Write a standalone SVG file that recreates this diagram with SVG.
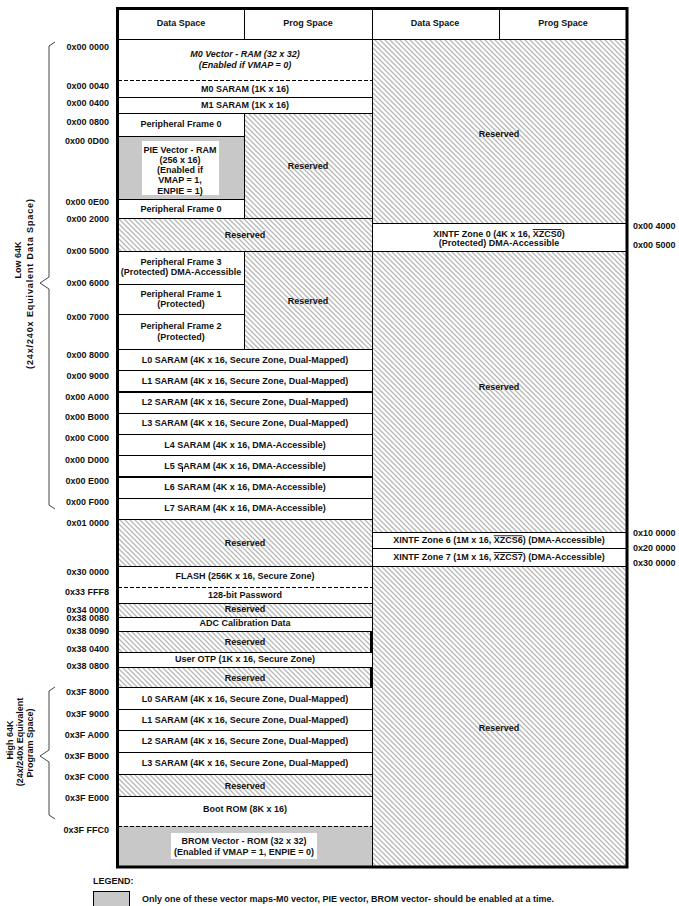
<svg xmlns="http://www.w3.org/2000/svg" width="679" height="906" viewBox="0 0 679 906">
<style>
text{font-family:"Liberation Sans",Arial,sans-serif;font-size:9px;font-weight:bold;fill:#111;}
.c{text-anchor:middle;}
.a{text-anchor:end;}
.i{font-style:italic;}
.w{fill:#fff;}
.h{fill:url(#hatch);}
.g{fill:#c8c8c8;}
.ln{stroke:#000;stroke-width:1;fill:none;}
.thk{stroke:#000;stroke-width:2;fill:none;}
.ds{stroke:#000;stroke-width:1;stroke-dasharray:4,2;fill:none;}
.br{stroke:#444;stroke-width:1;fill:none;}
.ov{text-decoration:overline;}
</style>
<defs>
<pattern id="hatch" patternUnits="userSpaceOnUse" width="5" height="5">
<rect width="5" height="5" fill="#fff"/>
<path d="M0,0 L5,5 M-1,4 L1,6 M4,-1 L6,1" stroke="#b8b8b8" stroke-width="1.3"/>
</pattern>
</defs>
<rect width="679" height="906" fill="#fff"/>

<g id="header">
<rect x="118" y="8" width="510" height="31" class="w"/>
<text x="181" y="26" class="c">Data Space</text>
<text x="308" y="26" class="c">Prog Space</text>
<text x="435" y="26" class="c">Data Space</text>
<text x="563" y="26" class="c">Prog Space</text>
</g>

<g id="m0vector">
<rect x="118" y="39" width="254" height="41" class="w"/>
<text x="245" y="57" class="c i">M0 Vector - RAM (32 x 32)</text>
<text x="245" y="68" class="c i">(Enabled if VMAP = 0)</text>
</g>
<g id="m0saram"><rect x="118" y="80" width="254" height="17" class="w"/><text x="245" y="91.5" class="c">M0 SARAM (1K x 16)</text></g>
<g id="m1saram"><rect x="118" y="97" width="254" height="16" class="w"/><text x="245" y="108" class="c">M1 SARAM (1K x 16)</text></g>
<g id="pf0a"><rect x="118" y="113" width="126" height="23" class="w"/><text x="181" y="127" class="c">Peripheral Frame 0</text></g>
<g id="pievector">
<rect x="118" y="136" width="126" height="63" class="g"/>
<rect x="142" y="141" width="77" height="54" class="w"/>
<text x="180" y="152.7" class="c">PIE Vector - RAM</text>
<text x="180" y="163" class="c">(256 x 16)</text>
<text x="180" y="173" class="c">(Enabled if</text>
<text x="180" y="183" class="c">VMAP = 1,</text>
<text x="180" y="193.5" class="c">ENPIE = 1)</text>
</g>
<g id="pf0b"><rect x="118" y="199" width="126" height="19" class="w"/><text x="181" y="212" class="c">Peripheral Frame 0</text></g>
<g id="resProg1"><rect x="244" y="113" width="128" height="105" class="h"/><text x="308" y="168.7" class="c">Reserved</text></g>
<g id="res1"><rect x="118" y="218" width="254" height="33" class="h"/><text x="245" y="237.7" class="c">Reserved</text></g>
<g id="pf3"><rect x="118" y="251" width="126" height="33" class="w"/><text x="181" y="265" class="c">Peripheral Frame 3</text><text x="181" y="275.3" class="c">(Protected) DMA-Accessible</text></g>
<g id="pf1"><rect x="118" y="284" width="126" height="30" class="w"/><text x="181" y="296.7" class="c">Peripheral Frame 1</text><text x="181" y="306.7" class="c">(Protected)</text></g>
<g id="pf2"><rect x="118" y="314" width="126" height="35" class="w"/><text x="181" y="329" class="c">Peripheral Frame 2</text><text x="181" y="339.7" class="c">(Protected)</text></g>
<g id="resProg2"><rect x="244" y="251" width="128" height="98" class="h"/><text x="308" y="303.7" class="c">Reserved</text></g>
<g id="l0low"><rect x="118" y="349" width="254" height="21" class="w"/><text x="245" y="363" class="c">L0 SARAM (4K x 16, Secure Zone, Dual-Mapped)</text></g>
<g id="l1low"><rect x="118" y="370" width="254" height="22" class="w"/><text x="245" y="384" class="c">L1 SARAM (4K x 16, Secure Zone, Dual-Mapped)</text></g>
<g id="l2low"><rect x="118" y="392" width="254" height="21" class="w"/><text x="245" y="405" class="c">L2 SARAM (4K x 16, Secure Zone, Dual-Mapped)</text></g>
<g id="l3low"><rect x="118" y="413" width="254" height="21" class="w"/><text x="245" y="426.3" class="c">L3 SARAM (4K x 16, Secure Zone, Dual-Mapped)</text></g>
<g id="l4"><rect x="118" y="434" width="254" height="21" class="w"/><text x="245" y="447.7" class="c">L4 SARAM (4K x 16, DMA-Accessible)</text></g>
<g id="l5"><rect x="118" y="455" width="254" height="22" class="w"/><text x="245" y="468.7" class="c">L5 SARAM (4K x 16, DMA-Accessible)</text><line x1="182.5" y1="467" x2="182.5" y2="472" class="ln"/></g>
<g id="l6"><rect x="118" y="477" width="254" height="21" class="w"/><text x="245" y="490" class="c">L6 SARAM (4K x 16, DMA-Accessible)</text></g>
<g id="l7"><rect x="118" y="498" width="254" height="21" class="w"/><text x="245" y="511" class="c">L7 SARAM (4K x 16, DMA-Accessible)</text></g>
<g id="res2"><rect x="118" y="519" width="254" height="47" class="h"/><text x="245" y="545.7" class="c">Reserved</text></g>
<g id="flash"><rect x="118" y="566" width="254" height="21" class="w"/><text x="245" y="578.7" class="c">FLASH (256K x 16, Secure Zone)</text></g>
<g id="password"><rect x="118" y="587" width="254" height="16" class="w"/><text x="245" y="598.3" class="c">128-bit Password</text></g>
<g id="res3"><rect x="118" y="603" width="254" height="14" class="h"/><text x="245" y="612.3" class="c">Reserved</text></g>
<g id="adc"><rect x="118" y="617" width="254" height="14" class="w"/><text x="245" y="626.3" class="c">ADC Calibration Data</text></g>
<g id="res4"><rect x="118" y="631" width="254" height="21" class="h"/><text x="245" y="644.7" class="c">Reserved</text></g>
<g id="otp"><rect x="118" y="652" width="254" height="15" class="w"/><text x="245" y="662.3" class="c">User OTP (1K x 16, Secure Zone)</text></g>
<g id="res5"><rect x="118" y="667" width="254" height="20" class="h"/><text x="245" y="681" class="c">Reserved</text></g>
<g id="l0high"><rect x="118" y="687" width="254" height="22" class="w"/><text x="245" y="701.7" class="c">L0 SARAM (4K x 16, Secure Zone, Dual-Mapped)</text></g>
<g id="l1high"><rect x="118" y="709" width="254" height="21" class="w"/><text x="245" y="723" class="c">L1 SARAM (4K x 16, Secure Zone, Dual-Mapped)</text></g>
<g id="l2high"><rect x="118" y="730" width="254" height="22" class="w"/><text x="245" y="744" class="c">L2 SARAM (4K x 16, Secure Zone, Dual-Mapped)</text></g>
<g id="l3high"><rect x="118" y="752" width="254" height="22" class="w"/><text x="245" y="765.7" class="c">L3 SARAM (4K x 16, Secure Zone, Dual-Mapped)</text></g>
<g id="res6"><rect x="118" y="774" width="254" height="22" class="h"/><text x="245" y="789" class="c">Reserved</text></g>
<g id="bootrom"><rect x="118" y="796" width="254" height="30" class="w"/><text x="245" y="812" class="c">Boot ROM (8K x 16)</text></g>
<g id="bromvector">
<rect x="118" y="826" width="254" height="41" class="g"/>
<rect x="171" y="833" width="146" height="26" class="w"/>
<text x="244" y="844" class="c">BROM Vector - ROM (32 x 32)</text>
<text x="244" y="854.5" class="c">(Enabled if VMAP = 1, ENPIE = 0)</text>
</g>

<g id="rres1"><rect x="372" y="39" width="256" height="184" class="h"/><text x="499" y="137" class="c">Reserved</text></g>
<g id="xintf0"><rect x="372" y="223" width="256" height="28" class="w"/>
<text x="499" y="237" class="c">XINTF Zone 0 (4K x 16, <tspan class="ov">XZCS0</tspan>)</text>
<text x="499" y="246" class="c">(Protected) DMA-Accessible</text></g>
<g id="rres2"><rect x="372" y="251" width="256" height="281" class="h"/><text x="499" y="390" class="c">Reserved</text></g>
<g id="xintf6"><rect x="372" y="532" width="256" height="16" class="w"/><text x="499" y="543.3" class="c">XINTF Zone 6 (1M x 16, <tspan class="ov">XZCS6</tspan>) (DMA-Accessible)</text></g>
<g id="xintf7"><rect x="372" y="548" width="256" height="18" class="w"/><text x="499" y="560" class="c">XINTF Zone 7 (1M x 16, <tspan class="ov">XZCS7</tspan>) (DMA-Accessible)</text></g>
<g id="rres3"><rect x="372" y="566" width="256" height="301" class="h"/><text x="499" y="731" class="c">Reserved</text></g>

<g id="connectors">
<path class="ln" d="M118,39.5H628 M118,97.5H372 M118,113.5H372 M118,136.5H244 M118,199.5H244 M118,218.5H372 M372,223.5H628 M118,251.5H628 M118,284.5H244 M118,314.5H244 M118,349.5H372 M118,370.5H372 M118,413.5H372 M118,434.5H372 M118,455.5H372 M118,498.5H372 M118,519.5H372 M118,566.5H628 M372,532.5H628 M372,548.5H628 M118,603.5H372 M118,617.5H372 M118,631.5H372 M118,652.5H372 M118,667.5H372 M118,687.5H372 M118,709.5H372 M118,730.5H372 M118,752.5H372 M118,774.5H372 M118,796.5H372"/>
<path class="thk" d="M118,392H372 M118,477H372 M371,631V652 M371,667V687"/>
<path class="ds" d="M118,80.5H372 M118,587.5H372 M118,826.5H372"/>
<path class="ln" d="M244.5,8V39 M499.5,8V39 M244.5,113V218 M244.5,251V349 M372.5,8V867"/>
<rect x="117.5" y="8.5" width="509.5" height="858.5" fill="none" stroke="#000" stroke-width="3"/>
</g>

<g id="addresses">
<text x="109" y="50" class="a">0x00 0000</text>
<text x="109" y="89.3" class="a">0x00 0040</text>
<text x="109" y="106" class="a">0x00 0400</text>
<text x="109" y="125.3" class="a">0x00 0800</text>
<text x="109" y="144" class="a">0x00 0D00</text>
<text x="109" y="205.3" class="a">0x00 0E00</text>
<text x="109" y="222.3" class="a">0x00 2000</text>
<text x="109" y="254" class="a">0x00 5000</text>
<text x="109" y="286.3" class="a">0x00 6000</text>
<text x="109" y="320" class="a">0x00 7000</text>
<text x="109" y="358" class="a">0x00 8000</text>
<text x="109" y="379.3" class="a">0x00 9000</text>
<text x="109" y="400" class="a">0x00 A000</text>
<text x="109" y="420" class="a">0x00 B000</text>
<text x="109" y="441.3" class="a">0x00 C000</text>
<text x="109" y="463.3" class="a">0x00 D000</text>
<text x="109" y="484" class="a">0x00 E000</text>
<text x="109" y="505.3" class="a">0x00 F000</text>
<text x="109" y="526" class="a">0x01 0000</text>
<text x="109" y="575.3" class="a">0x30  0000</text>
<text x="109" y="595" class="a">0x33  FFF8</text>
<text x="109" y="612.6" class="a">0x34  0000</text>
<text x="109" y="621" class="a">0x38  0080</text>
<text x="109" y="634.3" class="a">0x38  0090</text>
<text x="109" y="652.3" class="a">0x38  0400</text>
<text x="109" y="669.3" class="a">0x38  0800</text>
<text x="109" y="695.3" class="a">0x3F  8000</text>
<text x="109" y="717.3" class="a">0x3F  9000</text>
<text x="109" y="738.3" class="a">0x3F  A000</text>
<text x="109" y="759.3" class="a">0x3F  B000</text>
<text x="109" y="780" class="a">0x3F  C000</text>
<text x="109" y="801.3" class="a">0x3F  E000</text>
<text x="109" y="833.3" class="a">0x3F  FFC0</text>
<text x="633" y="229.3">0x00 4000</text>
<text x="633" y="248.3">0x00 5000</text>
<text x="633" y="536">0x10 0000</text>
<text x="633" y="551">0x20 0000</text>
<text x="633" y="566.3">0x30 0000</text>
</g>

<g id="braces">
<path class="br" d="M55,42 L49,46 V277 L40,283 L49,289 V505 L55,509"/>
<path class="br" d="M55,687 L49,691 V750 L40,756 L49,762 V815 L55,819"/>
<text transform="translate(21,260) rotate(-90)" class="c">Low 64K</text>
<text transform="translate(33,284) rotate(-90)" class="c" textLength="170" lengthAdjust="spacing">(24x/240x Equivalent Data Space)</text>
<text transform="translate(13,740) rotate(-90)" class="c">High 64K</text>
<text transform="translate(23,742) rotate(-90)" class="c">(24x/240x Equivalent</text>
<text transform="translate(33,743) rotate(-90)" class="c">Program Space)</text>
</g>

<g id="legend">
<text x="93" y="884">LEGEND:</text>
<rect x="93.5" y="891.5" width="36" height="20" class="g" stroke="#000" stroke-width="1"/>
<text x="142" y="902">Only one of these vector maps-M0 vector, PIE vector, BROM vector- should be enabled at a time.</text>
</g>
</svg>
